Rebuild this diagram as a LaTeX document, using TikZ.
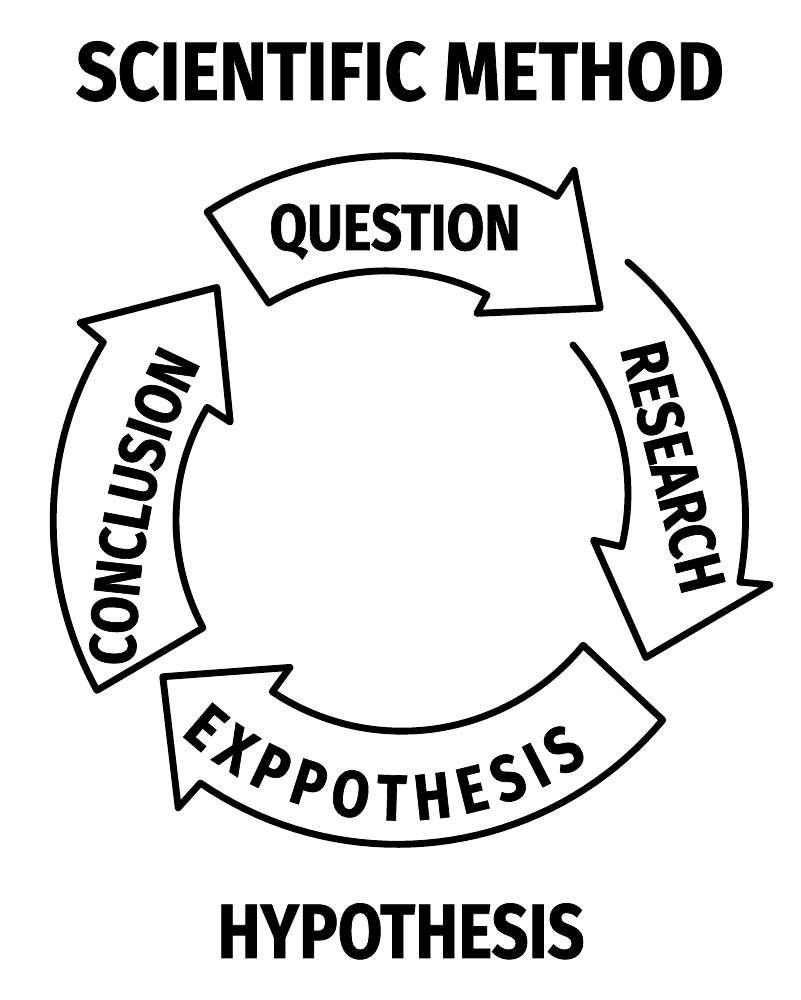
\documentclass[tikz,border=0pt]{standalone}
\usepackage{fontspec}
\newfontfamily\signfont[FakeStretch=0.84, FakeBold=1]{Fira Sans}
\newfontfamily\headfont[FakeStretch=0.88, FakeBold=1]{Fira Sans}
\newcommand\signlabel{\signfont\bfseries\fontsize{37}{37}\selectfont}
\usetikzlibrary{decorations.text}
\tikzset{
	band/.style={draw=black, fill=white, line width=3.9pt, line join=round, line cap=round},
	sign/.style={font=\signlabel, inner sep=0pt},
	heading/.style={font=\headfont\bfseries\fontsize{47}{47}\selectfont, inner sep=0pt, anchor=base},
}

\begin{document}
\begin{tikzpicture}[x=0.2mm, y=0.2mm]
	\useasboundingbox (0,0) rectangle (800,1000);
	% headings
	\node[heading] (title) at (400,900) {SCIENTIFIC METHOD};
	\node[heading, font=\signfont\bfseries\fontsize{43.8}{43.8}\selectfont] (hypo) at (401,42) {HYPOTHESIS};
	\begin{scope}[shift={(400,502)}]
	% research arrow (open tail)
	\draw[band] plot[variable=\t, domain=46:-13.9, samples=40] (\t:{328+22*(\t-46)/(-13.9-46)}) -- (-13.2:380) -- (-33:293) -- (-12.3:198)
		-- plot[variable=\t, domain=-12.4:41.5, samples=40] (\t:{227+4*(\t+12.4)/(41.5+12.4)});
	% question arrow
	\draw[band] plot[variable=\t, domain=124:62.5, samples=40] (\t:{345-5*(\t-124)/(62.5-124)}) -- (62:371) -- (43.5:276) -- (67.4:200)
		-- plot[variable=\t, domain=66.8:124, samples=40] (\t:{221+14*(\t-66.8)/(124-66.8)}) -- cycle;
	% hypothesis arrow
	\draw[band] plot[variable=\t, domain=-40.2:-125, samples=40] (\t:{344+4*(\t+40.2)/(-125+40.2)}) -- (-125.6:381) -- (-143:297) -- (-123:202)
		-- plot[variable=\t, domain=-123.4:-38.8, samples=40] (\t:{232+3*(\t+123.4)/(-38.8+123.4)}) -- cycle;
	% conclusion arrow
	\draw[band] plot[variable=\t, domain=212.4:152.3, samples=40] (\t:{359-24*(\t-212.4)/(152.3-212.4)}) -- (151.3:365) -- (131:279) -- (155.9:186)
		-- plot[variable=\t, domain=154.8:213.4, samples=40] (\t:{213+23*(\t-154.8)/(213.4-154.8)}) -- cycle;
	% curved label on the bottom arrow
	\path[decorate, decoration={text along path, text={|\signlabel|EXPPOTHESIS}, text align=fit to path, raise=-0.45cm}]
		(227:300) arc[start angle=227, end angle=306, radius=300];
	\end{scope}
	% labels
	\node[sign, anchor=base] (question) at (395,750) {QUESTION};
	\node[sign, rotate=-75.8] (research) at (673,533) {RESEARCH};
	\path[decorate, decoration={text along path, text={|\signlabel|CONCLUSION}, text align=center, raise=-0.45cm}]
		(112,302) .. controls (112,460) and (139,580) .. (197,675);
\end{tikzpicture}
\end{document}
